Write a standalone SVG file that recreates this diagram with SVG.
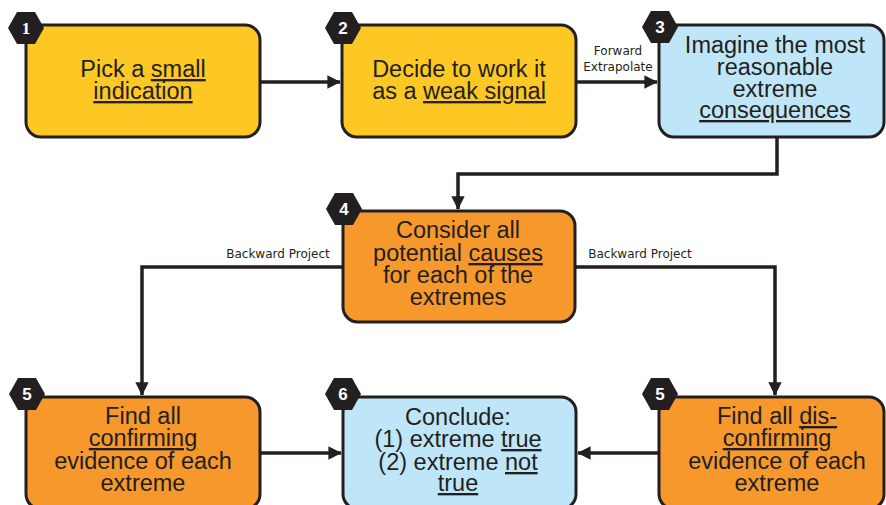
<svg xmlns="http://www.w3.org/2000/svg" width="886" height="505" viewBox="0 0 886 505">
  <defs>
    <style>
      .box { stroke: #231F20; stroke-width: 3; }
      .yellow { fill: #FDC823; }
      .blue { fill: #BFE6F8; }
      .orange { fill: #F7982C; }
      .hex { fill: #231F20; }
      .num { fill: #FFFFFF; font-family: "Liberation Sans", Arial, sans-serif; font-weight: bold; font-size: 17px; text-anchor: middle; }
      .label { fill: #231F20; font-family: "Liberation Sans", Arial, sans-serif; font-size: 23.5px; text-anchor: middle; }
      .u { text-decoration: underline; }
      .edge { fill: none; stroke: #231F20; stroke-width: 3.5; }
      .note { fill: #231F20; font-family: "DejaVu Sans", sans-serif; font-size: 12px; text-anchor: middle; }
    </style>
    <marker id="arrow" viewBox="0 0 10 10" refX="9.5" refY="5" markerWidth="3.8" markerHeight="3.8" orient="auto" markerUnits="strokeWidth">
      <path d="M0,0 L10,5 L0,10 z" fill="#231F20"/>
    </marker>
    <polygon id="hexagon" points="-18,0 -9,-16 9,-16 18,0 9,16 -9,16"/>
  </defs>

  <rect width="886" height="505" fill="#FFFFFF"/>

  <!-- connectors -->
  <g id="connectors">
    <path class="edge" d="M260,82 L340,82" marker-end="url(#arrow)"/>
    <path class="edge" d="M576,82 L657,82" marker-end="url(#arrow)"/>
    <text class="note" x="618" y="55">Forward</text>
    <text class="note" x="618" y="71">Extrapolate</text>
    <path class="edge" d="M777,137 L777,174 L458,174 L458,209" marker-end="url(#arrow)"/>
    <path class="edge" d="M343,267 L142,267 L142,395" marker-end="url(#arrow)"/>
    <text class="note" x="278" y="258">Backward Project</text>
    <path class="edge" d="M575,267 L775,267 L775,395" marker-end="url(#arrow)"/>
    <text class="note" x="640" y="258">Backward Project</text>
    <path class="edge" d="M260,453 L341,453" marker-end="url(#arrow)"/>
    <path class="edge" d="M659,453 L578,453" marker-end="url(#arrow)"/>
  </g>

  <!-- step 1 -->
  <g id="step1">
    <rect class="box yellow" x="26" y="25" width="234" height="112" rx="15"/>
    <use href="#hexagon" class="hex" x="26" y="28"/>
    <text class="num" x="26" y="34" style="font-family: 'Liberation Serif', serif;">1</text>
    <text class="label" x="143" y="77">Pick a <tspan class="u">small</tspan></text>
    <text class="label" x="143" y="99"><tspan class="u">indication</tspan></text>
  </g>

  <!-- step 2 -->
  <g id="step2">
    <rect class="box yellow" x="342" y="25" width="234" height="112" rx="15"/>
    <use href="#hexagon" class="hex" x="343" y="28"/>
    <text class="num" x="343" y="34">2</text>
    <text class="label" x="459" y="77">Decide to work it</text>
    <text class="label" x="459" y="99">as a <tspan class="u">weak signal</tspan></text>
  </g>

  <!-- step 3 -->
  <g id="step3">
    <rect class="box blue" x="659" y="25" width="225" height="112" rx="15"/>
    <use href="#hexagon" class="hex" x="660" y="27"/>
    <text class="num" x="660" y="33">3</text>
    <text class="label" x="775" y="53">Imagine the most</text>
    <text class="label" x="775" y="75">reasonable</text>
    <text class="label" x="775" y="97">extreme</text>
    <text class="label" x="775" y="118"><tspan class="u">consequences</tspan></text>
  </g>

  <!-- step 4 -->
  <g id="step4">
    <rect class="box orange" x="343" y="211" width="232" height="111" rx="15"/>
    <use href="#hexagon" class="hex" x="344" y="209"/>
    <text class="num" x="344" y="215">4</text>
    <text class="label" x="458" y="238">Consider all</text>
    <text class="label" x="458" y="261">potential <tspan class="u">causes</tspan></text>
    <text class="label" x="458" y="283">for each of the</text>
    <text class="label" x="458" y="305">extremes</text>
  </g>

  <!-- step 5, confirming -->
  <g id="step5a">
    <rect class="box orange" x="26" y="397" width="234" height="112" rx="15"/>
    <use href="#hexagon" class="hex" x="27" y="394"/>
    <text class="num" x="27" y="400">5</text>
    <text class="label" x="143" y="424">Find all</text>
    <text class="label" x="143" y="446"><tspan class="u">confirming</tspan></text>
    <text class="label" x="143" y="469">evidence of each</text>
    <text class="label" x="143" y="491">extreme</text>
  </g>

  <!-- step 6 -->
  <g id="step6">
    <rect class="box blue" x="343" y="397" width="233" height="112" rx="15"/>
    <use href="#hexagon" class="hex" x="343" y="394"/>
    <text class="num" x="343" y="400">6</text>
    <text class="label" x="458" y="425">Conclude:</text>
    <text class="label" x="458" y="447">(1) extreme <tspan class="u">true</tspan></text>
    <text class="label" x="458" y="470">(2) extreme <tspan class="u">not</tspan></text>
    <text class="label" x="458" y="491"><tspan class="u">true</tspan></text>
  </g>

  <!-- step 5, dis-confirming -->
  <g id="step5b">
    <rect class="box orange" x="659" y="397" width="225" height="112" rx="15"/>
    <use href="#hexagon" class="hex" x="660" y="394"/>
    <text class="num" x="660" y="400">5</text>
    <text class="label" x="777" y="424">Find all <tspan class="u">dis-</tspan></text>
    <text class="label" x="777" y="446"><tspan class="u">confirming</tspan></text>
    <text class="label" x="777" y="469">evidence of each</text>
    <text class="label" x="777" y="491">extreme</text>
  </g>
</svg>
